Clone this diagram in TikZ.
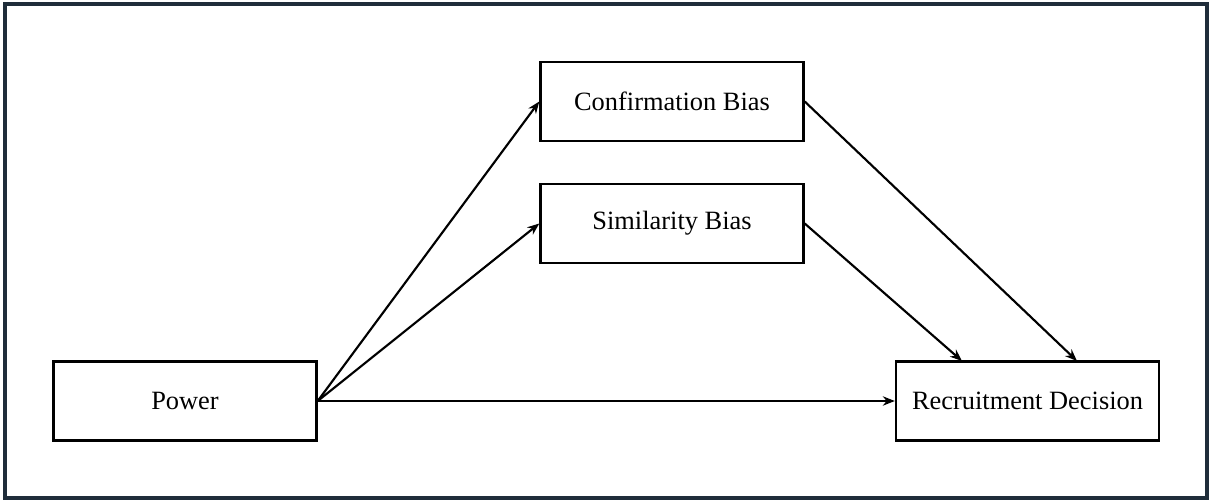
\documentclass[tikz,border=0pt]{standalone}
\usepackage{fontspec}
\setmainfont{Liberation Serif}
\usetikzlibrary{arrows.meta}
\definecolor{framec}{HTML}{1F2D3A}
\begin{document}
\begin{tikzpicture}[x=0.75pt,y=-0.75pt,
  box/.style={draw=black,line width=1.8pt,minimum width=263*0.75pt,minimum height=79*0.75pt,inner sep=0pt,font=\fontsize{19.8pt}{22pt}\selectfont},
  conn/.style={line width=1.6pt,-{Stealth[length=9pt,width=7pt]}}]
\useasboundingbox (0,0) rectangle (1212,502);
\draw[framec,line width=2.6pt] (5,4) rectangle (1207,498);
\node[box] (pw) at (185,401) {Power};
\node[box] (cb) at (672,101.5) {Confirmation Bias};
\node[box] (sb) at (672,223.5) {Similarity Bias};
\node[box] (rd) at (1027.5,401) {Recruitment Decision};
\coordinate (rdA) at (962,361);
\coordinate (rdB) at (1077,361);
\draw[conn] (pw.east) -- (cb.west);
\draw[conn] (pw.east) -- (sb.west);
\draw[conn] (pw.east) -- (rd.west);
\draw[conn] (cb.east) -- (rdB);
\draw[conn] (sb.east) -- (rdA);
\end{tikzpicture}
\end{document}
